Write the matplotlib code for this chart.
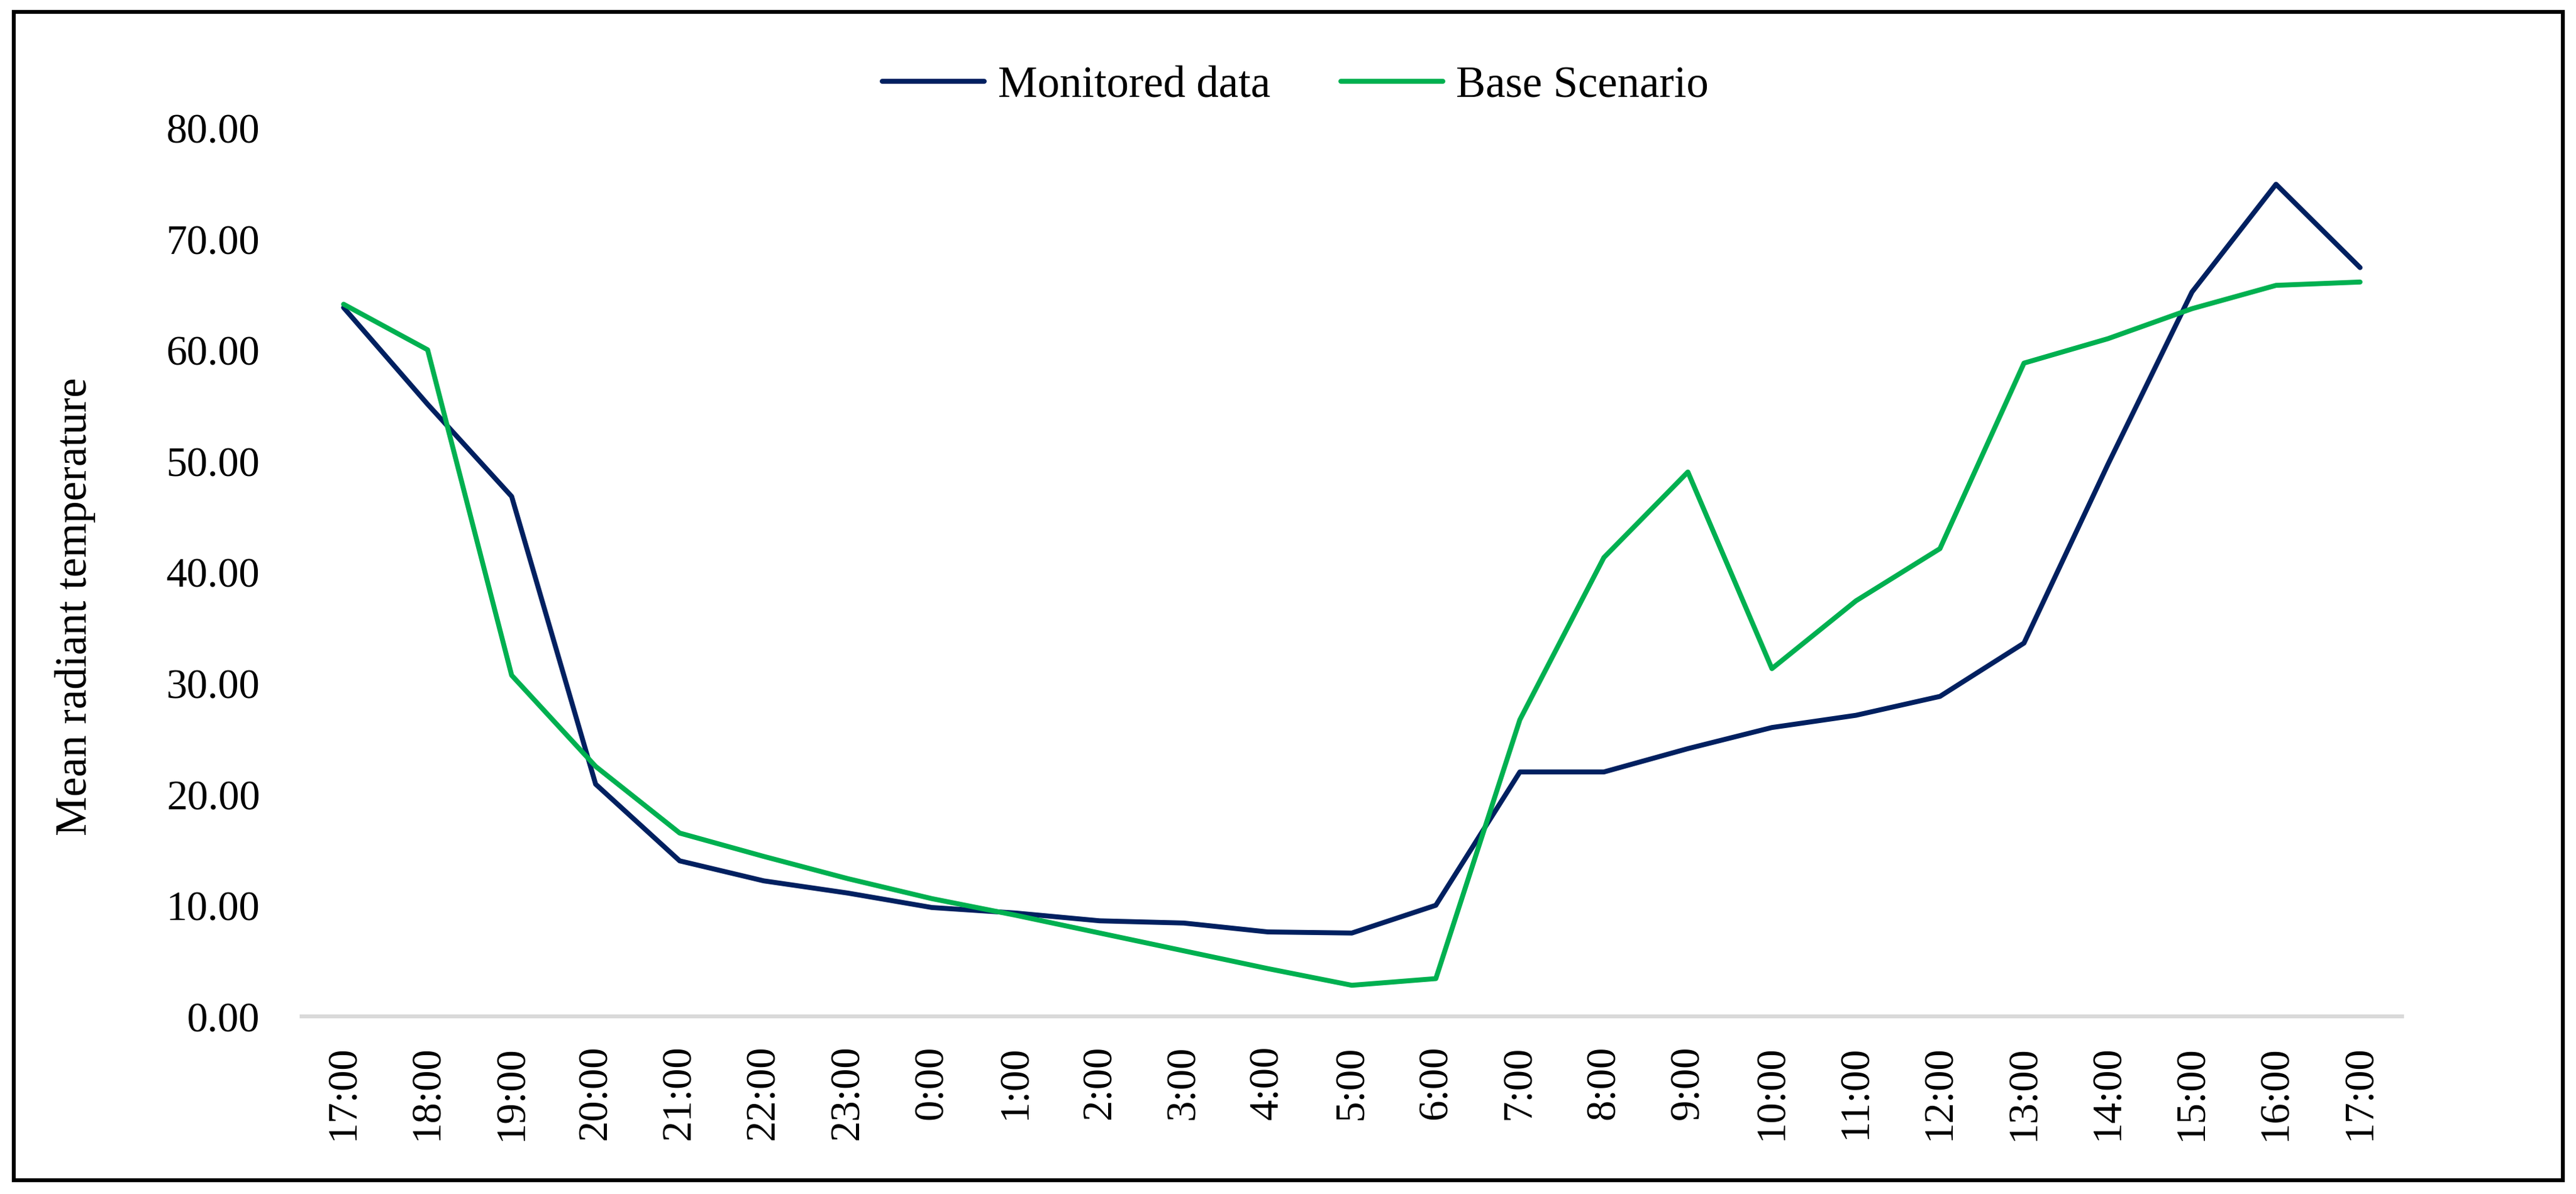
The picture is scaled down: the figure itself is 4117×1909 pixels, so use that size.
import matplotlib
matplotlib.use("Agg")
import matplotlib.pyplot as plt
from matplotlib.patches import Rectangle

# hours along the x axis (24 h window, 17:00 -> 17:00)
hours = ["17:00", "18:00", "19:00", "20:00", "21:00", "22:00", "23:00", "0:00",
         "1:00", "2:00", "3:00", "4:00", "5:00", "6:00", "7:00", "8:00", "9:00",
         "10:00", "11:00", "12:00", "13:00", "14:00", "15:00", "16:00", "17:00"]

monitored = [63.8, 55.1, 46.8, 20.9, 14.0, 12.2, 11.1, 9.8, 9.3, 8.6, 8.4, 7.6,
             7.5, 10.0, 22.0, 22.0, 24.1, 26.0, 27.1, 28.8, 33.6, 49.7, 65.2,
             74.9, 67.4]
base_scenario = [64.1, 60.0, 30.7, 22.5, 16.5, 14.4, 12.4, 10.6, 9.1, 7.5, 5.9,
                 4.3, 2.8, 3.4, 26.7, 41.3, 49.0, 31.3, 37.4, 42.1, 58.8, 61.0,
                 63.7, 65.8, 66.1]

y_ticks = [0, 10, 20, 30, 40, 50, 60, 70, 80]

plt.rcParams['font.family'] = ['Liberation Serif', 'DejaVu Serif']

W, H, DPI = 4117, 1910, 300
fig = plt.figure(figsize=(W / DPI, H / DPI), dpi=DPI)
ax = fig.add_axes([482 / W, 1 - 1626 / H, (3839 - 482) / W, (1626 - 205) / H])

x = list(range(len(hours)))
ax.plot(x, monitored, color="#002060", lw=1.9, label="Monitored data",
        solid_joinstyle="round", solid_capstyle="round")
ax.plot(x, base_scenario, color="#00B050", lw=1.9, label="Base Scenario",
        solid_joinstyle="round", solid_capstyle="round")

ax.set_xlim(-0.5, len(hours) - 0.5)
ax.set_ylim(0, 80)
ax.set_yticks(y_ticks)
ax.set_yticklabels([f"{v:.2f}" for v in y_ticks], fontsize=16)
ax.set_xticks(x)
ax.set_xticklabels(hours, rotation=90, fontsize=16)
ax.tick_params(axis="y", length=0, pad=16)
ax.tick_params(axis="x", length=0, pad=11)

for side in ["top", "right", "left"]:
    ax.spines[side].set_visible(False)
ax.spines["bottom"].set_color("#D9D9D9")
ax.spines["bottom"].set_linewidth(1.5)

fig.text(120 / W, 1 - 970 / H, "Mean radiant temperature", rotation=90,
         ha="center", va="center", fontsize=17)

fig.legend(loc="center", bbox_to_anchor=(0.503, 1 - 138 / H), ncol=2,
           frameon=False, fontsize=17, handlelength=2.3, handletextpad=0.3,
           columnspacing=1.6)

fig.patches.append(Rectangle((22 / W, 1 - 1888 / H), (4096 - 22) / W,
                             (1888 - 20) / H, transform=fig.transFigure,
                             fill=False, lw=1.5, ec="black"))

fig.savefig("out.png", dpi=DPI)
